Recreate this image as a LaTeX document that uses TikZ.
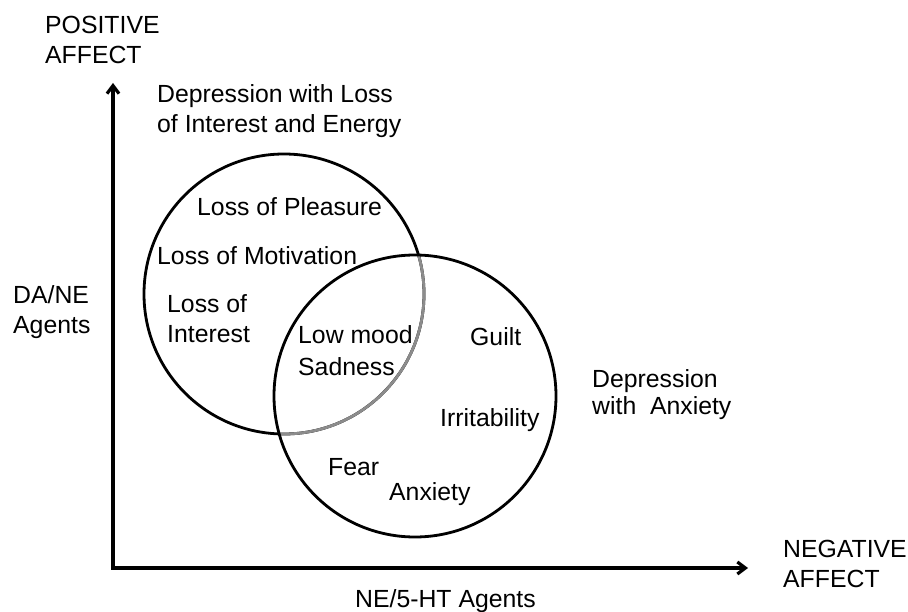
\documentclass[tikz,border=0pt]{standalone}
\usepackage{fontspec}
\setmainfont{Liberation Sans}
\usetikzlibrary{arrows.meta}
\begin{document}
\begin{tikzpicture}[x=1pt,y=-1pt,
  lbl/.style={anchor=north west, inner sep=0pt, align=left, font=\fontsize{24.8}{30}\selectfont},
  ring/.style={circle, draw, line width=2.8pt, inner sep=0pt},
  inner/.style={draw=black!45, line width=2.8pt},
  axis/.style={line width=3.2pt, {Straight Barb[length=8pt,width=12pt]}-{Straight Barb[length=8pt,width=12pt]}}]
\useasboundingbox (0,0) rectangle (908,612);
% axes
\coordinate (ytip) at (113,83);
\coordinate (o) at (113,568);
\coordinate (xtip) at (748,568);
\draw[axis] (ytip) -- (o) -- (xtip);
% circles
\node[ring, minimum size=280pt] (c1) at (284,294) {};
\begin{scope}
  \clip (415,396) circle[radius=141pt];
  \draw[inner] (c1.center) circle[radius=140pt];
\end{scope}
\node[ring, minimum size=282pt] (c2) at (415,396) {};
% labels
\node[lbl] (pa) at (45,15.5) {POSITIVE\\AFFECT};
\node[lbl] (dl) at (157,84.5) {Depression with Loss\\of Interest and Energy};
\node[lbl] (dane) at (13,285.5) {DA/NE\\Agents};
\node[lbl] (lp) at (197,197.5) {Loss of Pleasure};
\node[lbl] (lm) at (157,246.5) {Loss of Motivation};
\node[lbl] (li) at (167,294.5) {Loss of\\Interest};
\node[lbl, font=\fontsize{24.8}{32}\selectfont] (lmood) at (298,325) {Low mood\\Sadness};
\node[lbl] (guilt) at (470,327.5) {Guilt};
\node[lbl] (irr) at (440,408.5) {Irritability};
\node[lbl] (fear) at (328,458) {Fear};
\node[lbl] (anx) at (389,482.5) {Anxiety};
\node[lbl, font=\fontsize{24.8}{27}\selectfont] (da) at (592,369.5) {Depression\\with\ \ Anxiety};
\node[lbl] (na) at (783,539.5) {NEGATIVE\\AFFECT};
\node[lbl] (ne) at (355,589) {NE/5-HT Agents};
\end{tikzpicture}
\end{document}
